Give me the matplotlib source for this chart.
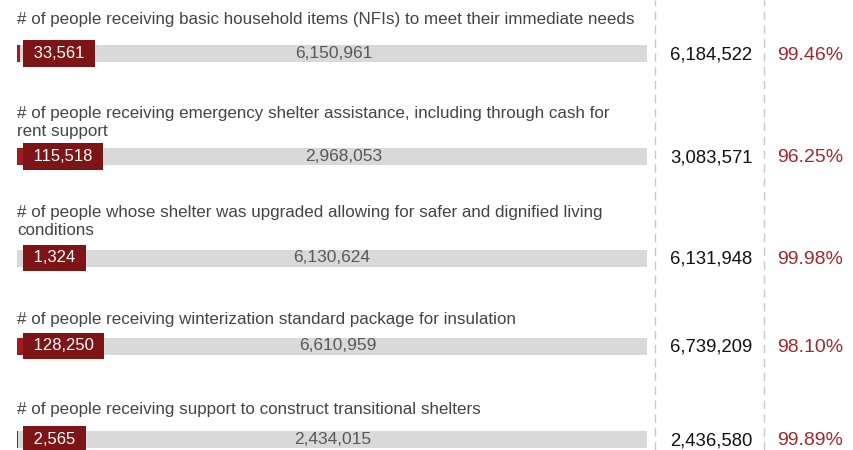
import matplotlib.pyplot as plt

plt.rcParams['font.family'] = ['Liberation Sans', 'DejaVu Sans']

labels = [
    '# of people receiving basic household items (NFIs) to meet their immediate needs',
    '# of people receiving emergency shelter assistance, including through cash for\nrent support',
    '# of people whose shelter was upgraded allowing for safer and dignified living\nconditions',
    '# of people receiving winterization standard package for insulation',
    '# of people receiving support to construct transitional shelters',
]
reached = [33561, 115518, 1324, 128250, 2565]
remaining = [6150961, 2968053, 6130624, 6610959, 2434015]
totals = [6184522, 3083571, 6131948, 6739209, 2436580]
percents = ['99.46%', '96.25%', '99.98%', '98.10%', '99.89%']

# layout in pixels
row_y = [53.5, 156.5, 258, 346, 439]
label_bottom = [27, 139, 238, 327, 417]
bar_left = 17
bar_len = 630

fig = plt.figure(figsize=(8.54, 4.5), dpi=100)
ax = fig.add_axes([0, 0, 1, 1])
ax.set_xlim(0, 854)
ax.set_ylim(450, 0)
ax.axis('off')

for x in [655, 764]:
    ax.axvline(x, color='#c8c8c8', lw=1, ls=(0, (6, 4)))

for i in range(len(labels)):
    frac = reached[i] / totals[i]
    red_w = frac * bar_len
    ax.barh(row_y[i], red_w, left=bar_left, height=17, color='#9e1b1f')
    ax.barh(row_y[i], bar_len - red_w, left=bar_left + red_w, height=17, color='#d9d9d9')
    ax.text(bar_left, label_bottom[i], labels[i], fontsize=12.25, color='#444444',
            ha='left', va='bottom', linespacing=1.25)
    ax.text(bar_left + 12, row_y[i], ' {:,} '.format(reached[i]), fontsize=12, color='white',
            ha='left', va='center',
            bbox=dict(boxstyle='square,pad=0.35', facecolor='#7d1416', edgecolor='none'))
    ax.text(bar_left + red_w + (bar_len - red_w) / 2, row_y[i], '{:,}'.format(remaining[i]),
            fontsize=12.5, color='#595959', ha='center', va='center')
    ax.text(752.5, row_y[i] + 1.5, '{:,}'.format(totals[i]), fontsize=13.3, color='#111111',
            ha='right', va='center')
    ax.text(777, row_y[i] + 1.5, percents[i], fontsize=14, color='#a3282b',
            ha='left', va='center')

fig.savefig('out.png', dpi=100)
